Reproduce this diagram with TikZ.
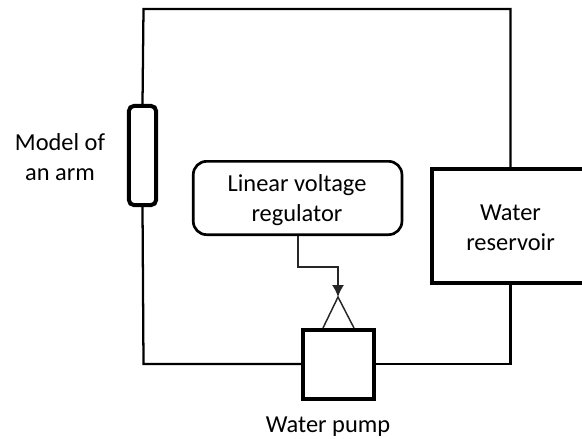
\documentclass[tikz,border=0pt]{standalone}
\usepackage{fontspec}
\setmainfont{Carlito}
\usetikzlibrary{arrows.meta}
\tikzset{
  px/.style={x=0.75pt,y=-0.75pt},
  pipe/.style={draw=black,line width=1.7pt},
  thin wire/.style={draw=black!85,line width=1.1pt},
  boxa/.style={draw=black,line width=3pt,fill=white,inner sep=0pt},
  lab/.style={font=\fontsize{18.3pt}{22.5pt}\selectfont,align=center,text=black,inner sep=0pt}
}
\begin{document}
\begin{tikzpicture}[px]
\useasboundingbox (0,0) rectangle (582,439);
\clip (0,0) rectangle (582,439);
\coordinate (tl) at (143.5,9);
\coordinate (tr) at (510.5,9);
\coordinate (bl) at (143.5,364);
\coordinate (br) at (510.5,364);
\node[boxa,minimum width=120pt,minimum height=85.5pt] (res) at (512,226) {};
\node[boxa,rounded corners=4pt,minimum width=20.5pt,minimum height=74.5pt] (arm) at (142.5,155.5) {};
\node[boxa,minimum width=53.6pt,minimum height=52pt] (pump) at (338.7,364.5) {};
\node[draw=black,line width=2pt,fill=white,rounded corners=10pt,inner sep=0pt,minimum width=156.5pt,minimum height=55pt] (reg) at (297.6,198) {};
\node[lab] (armt) at (60,157.5) {Model of\\an arm};
\node[lab] (regt) at (297,200) {Linear voltage\\regulator};
\node[lab] (rest) at (510.5,228) {Water\\reservoir};
\node[lab] (pumpt) at (328,427) {Water pump};
\draw[pipe] (arm.north) -- (tl) -- (tr) -- (tr |- res.north);
\draw[pipe] (arm.south) -- (bl) -- (pump.west |- bl);
\draw[pipe] (pump.east |- br) -- (br) -- (br |- res.south);
\coordinate (tipa) at (338,297);
\coordinate (tb) at (323,328);
\coordinate (tc) at (354,328);
\draw[thin wire] (tb) -- (tipa) -- (tc);
\draw[thin wire,-{Latex[length=9pt,width=9pt]}] (298,236) -- (298,267) -- (338,267) -- (tipa);
\end{tikzpicture}
\end{document}
